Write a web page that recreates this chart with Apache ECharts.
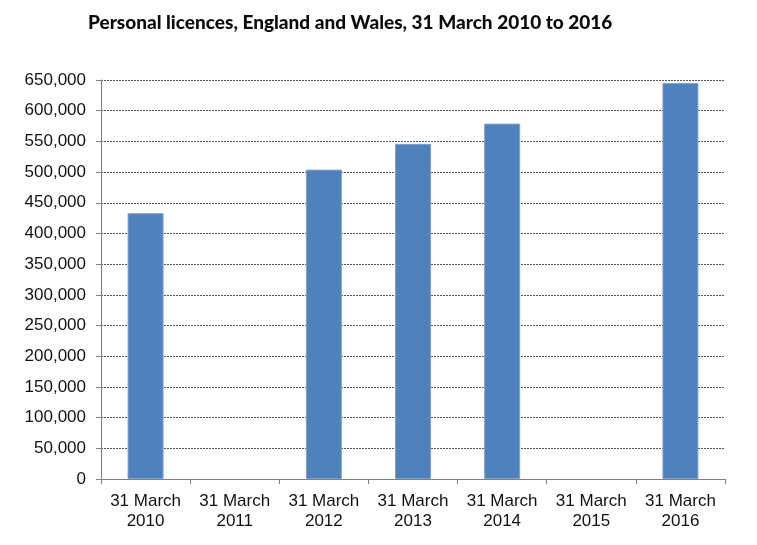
<!DOCTYPE html>
<html><head><meta charset="utf-8">
<script src="https://cdn.jsdelivr.net/npm/echarts@6/dist/echarts.min.js"></script>
<style>html,body{margin:0;padding:0;background:#fff}#c{width:757px;height:545px}</style>
</head><body><div id="c"></div>
<script>
const categories = ['31 March\n2010','31 March\n2011','31 March\n2012','31 March\n2013','31 March\n2014','31 March\n2015','31 March\n2016'];
const licences = [433000, null, 504000, 546000, 579000, null, 645000];
const titleText = 'Personal licences, England and Wales, 31 March 2010 to 2016';

const chart = echarts.init(document.getElementById('c'), null, {renderer:'canvas'});
chart.setOption({
  animation:false,
  backgroundColor:'#fff',
  title:{text:titleText,left:83,top:8,textStyle:{fontFamily:'Lato',fontWeight:900,fontSize:19,color:'#0b0c0c'}},
  grid:{left:101,right:32,top:80,bottom:66,containLabel:false},
  xAxis:{type:'category',data:categories,
    axisLine:{lineStyle:{color:'#808080',width:1}},
    axisTick:{show:true,length:5,lineStyle:{color:'#808080'}},
    axisLabel:{fontFamily:'"Liberation Sans", Arial, sans-serif',fontSize:17,color:'#111',lineHeight:20,margin:12,interval:0}},
  yAxis:{type:'value',min:0,max:650000,interval:50000,
    axisLine:{show:true,lineStyle:{color:'#808080',width:1}},
    axisTick:{show:true,length:5,lineStyle:{color:'#808080'}},
    axisLabel:{fontFamily:'"Liberation Sans", Arial, sans-serif',fontSize:17,color:'#111',margin:15,
      formatter:v=>v.toLocaleString('en-GB')},
    splitLine:{show:true,lineStyle:{type:[2,1],color:'#555',width:1}}},
  series:[{type:'bar',data:licences,barWidth:36,
    itemStyle:{color:'#4F81BD',borderColor:'#7FA0CF',borderWidth:1}}]
});
</script></body></html>
